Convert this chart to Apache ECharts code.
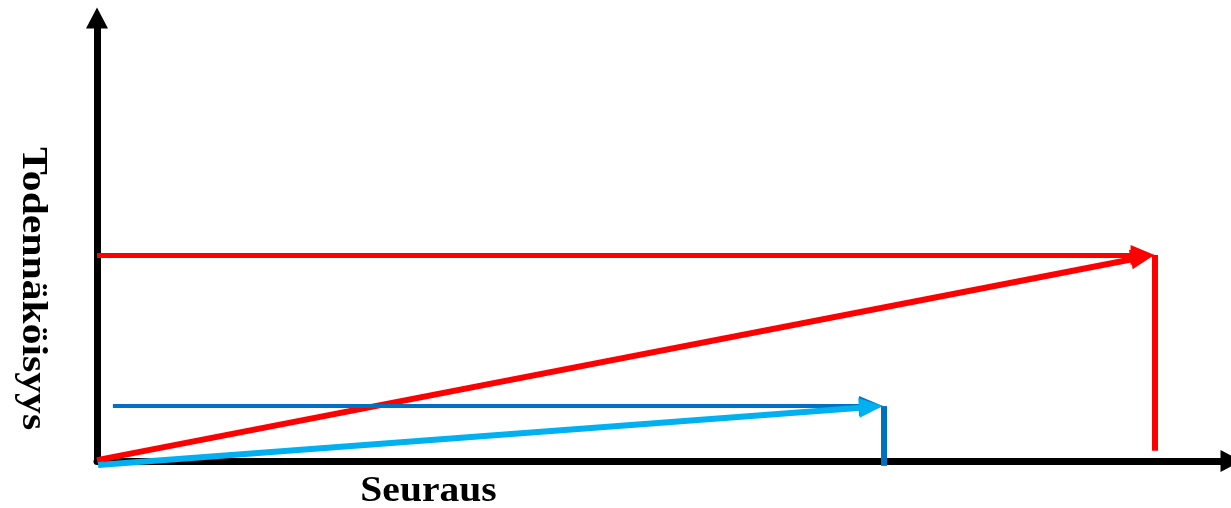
<!DOCTYPE html>
<html>
<head>
<meta charset="utf-8">
<script src="https://cdn.jsdelivr.net/npm/echarts@6/dist/echarts.min.js"></script>
<style>
html,body{margin:0;padding:0;background:#fff;}
#chart{width:1231px;height:508px;}
</style>
</head>
<body>
<div id="chart"></div>
<script>
// Data (abstract units: x 0..100, y 0..100)
const redHorizontal = [[0, 46.5], [92.2, 46.5]];
const redDiagonal = [[0, 0.2], [92.2, 46.0]];
const redVertical = [[93.3, 46.5], [93.3, 2.3]];
const blueHorizontal = [[1.4, 12.4], [68.25, 12.4]];
const lightBlueDiagonal = [[0.1, -0.9], [68.25, 12.2]];
const blueVertical = [[69.4, 12.4], [69.4, -1.1]];
const xAxisLabel = 'Seuraus';
const yAxisLabel = 'Todennäköisyys';

const RED = '#FF0000', DARKBLUE = '#0070C0', LIGHTBLUE = '#00B0F0';

function seg(coords, color, width, arrow) {
  return {
    type: 'lines',
    coordinateSystem: 'cartesian2d',
    clip: false,
    silent: true,
    symbol: arrow ? ['none', 'triangle'] : ['none', 'none'],
    symbolSize: [0, [20, 24]],
    lineStyle: { color: color, width: width, opacity: 1, cap: 'butt' },
    itemStyle: { color: color },
    data: [{ coords: coords }]
  };
}

const chart = echarts.init(document.getElementById('chart'), null, { renderer: 'canvas' });
const axisCommon = {
  type: 'value', min: 0, max: 100,
  splitLine: { show: false }, axisTick: { show: false }, axisLabel: { show: false },
  axisLine: { show: true, onZero: false, symbol: ['none', 'triangle'], symbolSize: [22, 21],
    lineStyle: { color: '#000', width: 7 } }
};
const labelFont = 'bold 35px "Liberation Serif"';
chart.setOption({
  animation: false,
  backgroundColor: '#fff',
  grid: { left: 97, right: 0, top: 18, bottom: 47 },
  xAxis: axisCommon,
  yAxis: axisCommon,
  series: [
    seg(redHorizontal, RED, 5, true),
    seg(redDiagonal, RED, 6, true),
    seg(redVertical, RED, 6, false),
    seg(blueHorizontal, DARKBLUE, 4, true),
    seg(lightBlueDiagonal, LIGHTBLUE, 6, true),
    seg(blueVertical, DARKBLUE, 6, false)
  ],
  graphic: [
    { type: 'text', x: 428.5, y: 491.5, scaleX: 1.13, silent: true,
      style: { text: xAxisLabel, font: labelFont, fill: '#000',
        align: 'center', verticalAlign: 'middle', textAlign: 'center', textVerticalAlign: 'middle' } },
    { type: 'text', x: 32.5, y: 288.5, rotation: -Math.PI / 2, scaleX: 1.19, silent: true,
      style: { text: yAxisLabel, font: labelFont, fill: '#000',
        align: 'center', verticalAlign: 'middle', textAlign: 'center', textVerticalAlign: 'middle' } }
  ]
});
</script>
</body>
</html>
